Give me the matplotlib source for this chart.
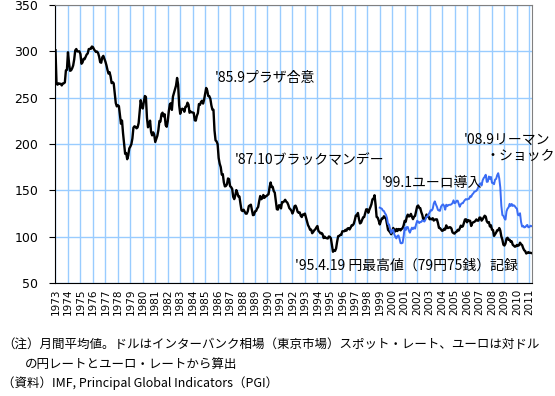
import matplotlib
matplotlib.use('Agg')
import matplotlib.pyplot as plt
import numpy as np

plt.rcParams['font.family'] = ['Noto Sans CJK JP', 'DejaVu Sans']

# monthly averages, yen per dollar, Jan 1973 - Mar 2011
usd_jpy = [
    301.2, 265.0, 264.0, 265.5, 264.9, 265.0, 263.2, 265.3, 265.5, 266.4, 279.4, 280.0,  # 1973
    299.0, 287.6, 279.0, 279.5, 281.6, 284.7, 291.3, 301.0, 302.5, 299.9, 299.9, 300.0,  # 1974
    297.0, 286.6, 288.0, 292.0, 291.5, 294.0, 296.6, 297.7, 302.4, 302.7, 302.7, 305.2,  # 1975
    304.6, 302.3, 300.6, 299.3, 299.7, 298.2, 294.2, 288.3, 287.7, 293.5, 295.1, 292.0,  # 1976
    289.0, 285.0, 280.0, 276.0, 277.5, 273.0, 265.7, 266.8, 265.4, 254.5, 244.2, 240.6,  # 1977
    241.9, 240.9, 231.4, 221.9, 225.3, 211.5, 200.3, 189.4, 190.3, 183.6, 187.6, 195.2,  # 1978
    197.2, 199.8, 206.0, 217.6, 219.1, 218.5, 216.9, 217.9, 222.6, 235.0, 247.3, 240.4,  # 1979
    238.3, 245.5, 251.8, 250.8, 228.4, 218.0, 220.7, 225.2, 212.8, 209.3, 212.6, 209.8,  # 1980
    202.2, 205.7, 208.9, 215.0, 224.8, 224.3, 232.3, 233.8, 229.9, 232.1, 220.4, 218.6,  # 1981
    224.6, 235.1, 242.9, 244.0, 236.8, 251.1, 255.1, 259.0, 263.1, 271.3, 264.1, 241.9,  # 1982
    232.6, 236.9, 238.1, 237.6, 234.8, 240.0, 240.5, 244.6, 242.5, 233.7, 235.0, 234.3,  # 1983
    233.9, 233.6, 225.6, 225.2, 230.4, 233.3, 243.1, 242.2, 245.4, 246.7, 243.6, 247.9,  # 1984
    254.2, 260.5, 257.9, 251.8, 251.6, 248.9, 241.7, 237.0, 236.9, 214.7, 204.0, 202.8,  # 1985
    199.9, 184.9, 178.7, 175.1, 167.0, 167.5, 158.6, 154.2, 154.7, 156.5, 162.8, 162.1,  # 1986
    154.5, 153.5, 151.6, 143.0, 140.5, 144.5, 150.3, 147.3, 143.3, 143.3, 135.4, 128.5,  # 1987
    127.6, 129.1, 127.1, 124.9, 124.8, 127.4, 133.0, 133.8, 134.5, 128.9, 123.2, 123.6,  # 1988
    127.3, 127.7, 130.4, 132.0, 138.4, 143.9, 140.4, 141.5, 145.0, 141.9, 143.5, 143.7,  # 1989
    145.0, 145.7, 153.3, 158.5, 153.5, 153.8, 149.2, 147.5, 138.4, 129.6, 129.2, 133.9,  # 1990
    133.7, 130.5, 137.4, 137.1, 138.2, 139.8, 137.8, 136.9, 134.3, 130.8, 129.6, 128.1,  # 1991
    125.0, 127.7, 132.9, 133.5, 130.8, 126.8, 125.8, 126.2, 122.6, 121.2, 123.9, 124.0,  # 1992
    124.9, 120.8, 117.0, 112.4, 110.3, 107.4, 107.7, 103.7, 105.1, 106.9, 107.9, 109.9,  # 1993
    111.5, 106.2, 105.1, 103.5, 104.0, 102.7, 98.5, 100.0, 98.7, 98.3, 98.0, 100.2,  # 1994
    99.8, 98.2, 90.8, 83.7, 85.1, 84.6, 87.3, 94.6, 100.5, 100.8, 101.9, 101.9,  # 1995
    105.8, 105.8, 105.9, 107.4, 106.5, 108.8, 109.2, 107.8, 109.8, 112.3, 112.3, 113.9,  # 1996
    117.9, 122.9, 122.8, 125.6, 119.1, 114.3, 115.1, 117.9, 120.9, 121.1, 125.4, 129.5,  # 1997
    129.5, 125.8, 129.1, 131.8, 135.0, 140.3, 140.8, 144.7, 134.5, 121.3, 120.6, 117.4,  # 1998
    113.2, 116.7, 119.7, 119.7, 122.0, 120.7, 119.7, 113.3, 107.4, 106.0, 104.7, 102.6,  # 1999
    105.3, 109.4, 106.3, 105.6, 108.3, 106.1, 108.2, 108.1, 106.8, 108.4, 109.0, 112.2,  # 2000
    117.1, 116.1, 121.2, 123.8, 121.8, 122.2, 124.6, 121.5, 118.9, 121.5, 122.4, 127.6,  # 2001
    132.7, 133.6, 131.1, 130.8, 126.4, 123.3, 118.0, 119.0, 120.5, 123.9, 121.6, 121.9,  # 2002
    118.8, 119.3, 118.7, 119.9, 117.4, 118.3, 118.7, 118.7, 114.8, 109.5, 109.2, 107.7,  # 2003
    106.3, 106.7, 108.5, 107.7, 112.2, 109.4, 109.4, 110.2, 110.1, 108.8, 104.7, 103.8,  # 2004
    103.3, 104.9, 105.3, 107.4, 106.6, 108.8, 111.9, 110.6, 111.2, 114.9, 118.5, 118.8,  # 2005
    115.5, 117.9, 117.3, 117.1, 111.5, 114.5, 115.6, 115.9, 117.0, 118.6, 117.3, 117.3,  # 2006
    120.6, 120.5, 117.3, 118.8, 120.8, 122.6, 121.6, 116.7, 115.0, 115.8, 111.0, 112.3,  # 2007
    107.6, 107.1, 100.8, 102.7, 104.4, 106.9, 106.9, 109.3, 106.7, 100.3, 96.8, 91.3,  # 2008
    90.4, 92.5, 97.9, 98.8, 96.6, 96.6, 94.5, 94.9, 91.2, 90.3, 89.2, 89.5,  # 2009
    91.1, 90.2, 90.7, 93.5, 91.8, 90.9, 87.7, 85.4, 84.4, 81.8, 82.6, 83.3,  # 2010
    82.6, 82.6, 82.3,  # 2011
]

# monthly averages, yen per euro, Jan 1999 - Mar 2011
eur_jpy = [
    131.3, 130.8, 130.2, 128.2, 127.7, 125.3, 123.7, 120.1, 113.6, 113.2, 108.2, 104.0,  # 1999
    106.5, 107.6, 102.6, 99.9, 98.1, 100.7, 101.4, 97.8, 93.1, 92.8, 93.3, 100.6,  # 2000
    109.6, 107.1, 110.3, 110.4, 106.6, 104.3, 107.2, 109.7, 108.2, 109.9, 108.7, 113.4,  # 2001
    117.1, 116.2, 114.7, 115.8, 115.9, 117.8, 117.1, 116.3, 118.4, 121.6, 121.6, 124.2,  # 2002
    126.1, 128.6, 128.2, 130.1, 135.8, 138.1, 134.9, 132.4, 128.9, 128.2, 127.9, 132.4,  # 2003
    134.1, 134.8, 133.1, 129.1, 134.5, 132.9, 134.1, 134.4, 134.4, 135.0, 136.2, 139.2,  # 2004
    136.0, 136.7, 138.8, 138.8, 135.4, 132.3, 134.9, 136.0, 136.1, 138.1, 139.6, 140.6,  # 2005
    140.0, 140.7, 140.9, 143.6, 143.0, 145.5, 146.6, 148.5, 148.8, 149.6, 151.1, 154.0,  # 2006
    156.6, 157.6, 155.2, 160.7, 163.2, 164.6, 166.8, 159.1, 159.4, 164.9, 162.4, 164.5,  # 2007
    158.1, 158.0, 156.6, 161.6, 162.3, 166.3, 168.5, 163.0, 153.2, 133.5, 123.3, 122.5,  # 2008
    119.7, 118.4, 127.4, 130.3, 131.6, 135.4, 133.1, 135.3, 133.1, 133.9, 132.9, 131.2,  # 2009
    130.3, 123.5, 123.0, 125.3, 115.8, 110.9, 111.7, 110.0, 110.3, 111.7, 112.7, 110.1,  # 2010
    110.4, 111.8, 111.4,  # 2011
]

usd_start = 1973
eur_start = 1999
year_labels = [str(y) for y in range(1973, 2012)]

notes = [
    '（注）月間平均値。ドルはインターバンク相場（東京市場）スポット・レート、ユーロは対ドル',
    'の円レートとユーロ・レートから算出',
    '（資料）IMF, Principal Global Indicators（PGI）',
]

x_usd = usd_start + np.arange(len(usd_jpy)) / 12.0
x_eur = eur_start + np.arange(len(eur_jpy)) / 12.0

fig = plt.figure(figsize=(5.55, 3.96), dpi=100)
ax = fig.add_axes([55 / 555, 1 - 283 / 396, 477 / 555, 278 / 396])

ax.plot(x_usd, usd_jpy, color='black', lw=1.7, zorder=3)
ax.plot(x_eur, eur_jpy, color='#3a6cf4', lw=1.4, zorder=3)

ax.set_xlim(1972.96, 2011.21)
ax.set_ylim(50, 350)
ax.set_yticks(range(50, 351, 50))
ax.set_xticks(range(1973, 2012))
ax.set_xticklabels(year_labels, rotation=90, fontsize=7.5, family='DejaVu Sans')
for lab in ax.get_yticklabels():
    lab.set_family('DejaVu Sans')
ax.tick_params(axis='x', length=0, pad=4)
ax.tick_params(axis='y', length=4, labelsize=9, pad=8)

ax.grid(True, color='#99ccff', lw=1.0, zorder=0)
ax.set_axisbelow(True)
for side in ['top', 'right']:
    ax.spines[side].set_color('#808080')
for side in ['left', 'bottom']:
    ax.spines[side].set_color('black')

fs = 10
ax.text(1985.79, 271, "'85.9プラザ合意", fontsize=fs, va='center')
ax.text(1987.4, 182.7, "'87.10ブラックマンデー", fontsize=fs, va='center')
ax.text(1999.2, 158, "'99.1ユーロ導入", fontsize=fs, va='center')
ax.text(2005.7, 205.4, "'08.9リーマン", fontsize=fs, va='center')
ax.text(2007.45, 187, "・ショック", fontsize=fs, va='center')
ax.text(1992.2, 68.4, "'95.4.19 円最高値（79円75銭）記録", fontsize=fs, va='center')

nfs = 9
fig.text(2 / 555, 1 - 344 / 396, notes[0], fontsize=nfs, va='center')
fig.text(25 / 555, 1 - 364 / 396, notes[1], fontsize=nfs, va='center')
fig.text(2 / 555, 1 - 383 / 396, notes[2], fontsize=nfs, va='center')

fig.savefig('out.png', dpi=100)
